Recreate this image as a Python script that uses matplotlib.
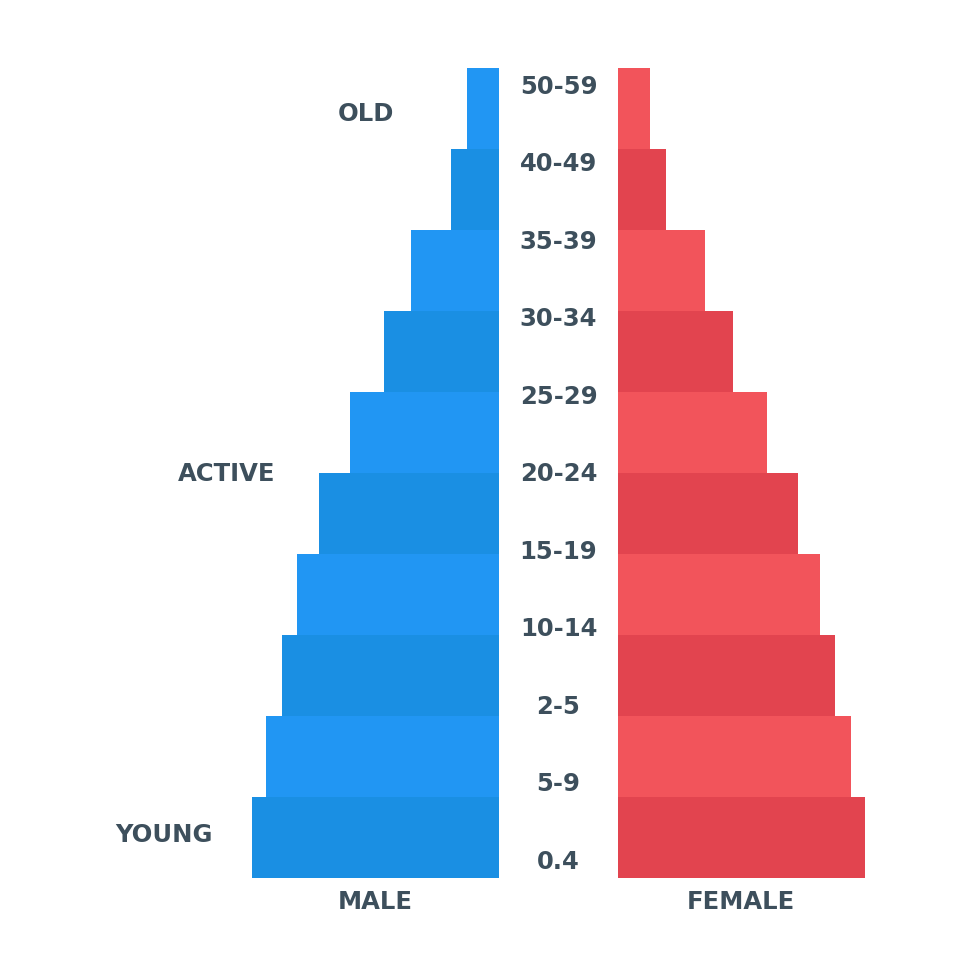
import numpy as np
import matplotlib.pyplot as plt

# age groups from bottom to top, as printed between the bars
age_labels = ['0.4', '5-9', '2-5', '10-14', '15-19', '20-24',
              '25-29', '30-34', '35-39', '40-49', '50-59']
# bar lengths from bottom row to top row
male = [247, 233, 217, 202, 180, 149, 115, 88, 48, 32]
female = [247, 233, 217, 202, 180, 149, 115, 87, 48, 32]

male_colors = ['#1A8FE3', '#2196F3']
female_colors = ['#E2444F', '#F2545B']
text_color = '#3D4F5C'


def main():
    plt.rcParams['font.family'] = ['DejaVu Sans']
    fig = plt.figure(figsize=(9.8, 9.8), dpi=100)
    ax = fig.add_axes([0, 0, 1, 1])

    gap = 59.5
    rows = np.arange(len(male))
    mc = [male_colors[i % 2] for i in rows]
    fc = [female_colors[i % 2] for i in rows]
    ax.barh(rows, -np.asarray(male), left=-gap, height=1.0, color=mc)
    ax.barh(rows, female, left=gap, height=1.0, color=fc)

    style = dict(ha='center', va='center', fontsize=17.5,
                 fontweight='bold', color=text_color)

    # age labels sit on their own evenly spaced grid
    label_y = np.linspace(-0.30, 9.27, len(age_labels))
    for y, lab in zip(label_y, age_labels):
        ax.text(0, y, lab, **style)

    ax.text(-193, 8.93, 'OLD', **style)
    ax.text(-332, 4.49, 'ACTIVE', **style)
    ax.text(-395, 0.03, 'YOUNG', **style)
    ax.text(-183, -0.8, 'MALE', **style)
    ax.text(182, -0.8, 'FEMALE', **style)

    ax.set_xlim(-558.5, 980 - 558.5)
    ax.set_ylim((837.5 - 980) / 81, 837.5 / 81)
    ax.axis('off')
    fig.savefig('out.png', dpi=100, facecolor='white')


if __name__ == '__main__':
    main()
